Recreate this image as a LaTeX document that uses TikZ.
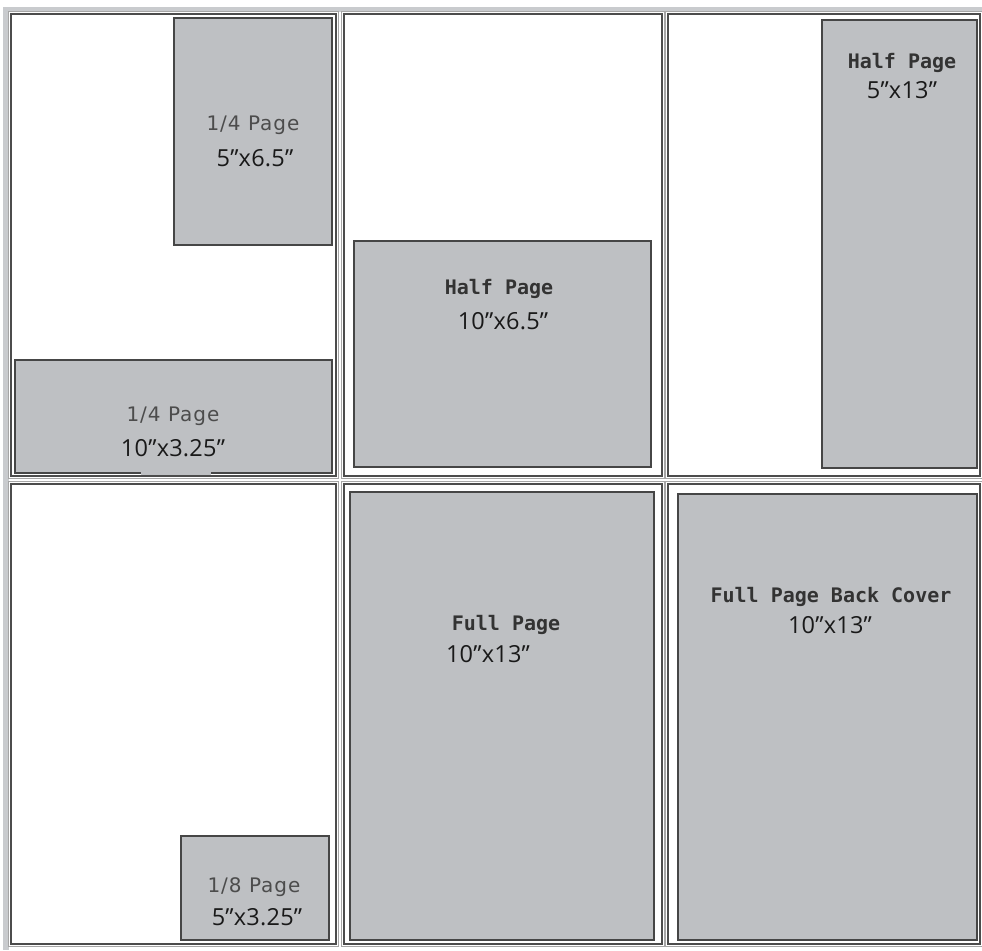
\documentclass[tikz,border=0pt]{standalone}
\usepackage{fontspec}
\newfontfamily\namefont[LetterSpace=5]{DejaVu Sans}
\newfontfamily\codefont{DejaVu Sans Mono}
\newfontfamily\dimfont[LetterSpace=1]{Open Sans}
\definecolor{adgray}{HTML}{BEC0C3}
\definecolor{edgegray}{HTML}{464646}
\definecolor{rimgray}{HTML}{C9CBCE}

\begin{document}
\begin{tikzpicture}[x=1pt,y=-1pt,
   cellframe/.style={draw=black!70,line width=1.2pt},
   cellrim/.style={draw=black!35,line width=0.8pt},
   adbox/.style={fill=adgray,draw=edgegray,line width=2.2pt},
   quarter/.style={font=\namefont\fontsize{20}{22}\selectfont,text=black!70,anchor=base,inner sep=0pt},
   mono/.style={font=\codefont\bfseries\fontsize{20}{22}\selectfont,text=black!80,anchor=base,inner sep=0pt},
   dims/.style={font=\dimfont\fontsize{23.5}{25}\selectfont,text=black!90,anchor=base,inner sep=0pt}]
  \useasboundingbox (0,0) rectangle (982,950);
  % light rim on top and left
  \fill[rimgray] (3,7) rectangle (982,12);
  \fill[rimgray] (3,7) rectangle (9,950);
  % page cells
  \foreach \xa/\ya/\xb/\yb in {10/13/337/477, 343/13/663/477, 667/13/981/477,
                               10/483/337/945, 343/483/663/945, 667/483/981/945} {
    \draw[cellrim] (\xa-1.5,\ya-1.5) rectangle (\xb+1.5,\yb+1.5);
    \draw[cellframe] (\xa+1,\ya+1) rectangle (\xb-1,\yb-1);
  }
  % ad boxes
  \draw[adbox] (174,18) rectangle (332,245);
  \draw[adbox] (15,360) rectangle (332,473);
  \fill[adgray] (141,471.5) rectangle (211,474.5);
  \draw[adbox] (354,241) rectangle (651,467);
  \draw[adbox] (822,20) rectangle (977,468);
  \draw[adbox] (181,836) rectangle (329,940);
  \draw[adbox] (350,492) rectangle (654,940);
  \draw[adbox] (678,494) rectangle (977,940);
  % labels
  \node[quarter] (q1) at (253,130) {1/4 Page};
  \node[dims] (q1d) at (255,166) {5”x6.5”};
  \node[quarter] (q2) at (173,421) {1/4 Page};
  \node[dims] (q2d) at (173,456) {10”x3.25”};
  \node[mono] (h1) at (499,294) {Half Page};
  \node[dims] (h1d) at (503,329) {10”x6.5”};
  \node[mono] (h2) at (902,69) {Half Page};
  \node[dims] (h2d) at (902,98) {5”x13”};
  \node[quarter] (e1) at (254,892) {1/8 Page};
  \node[dims] (e1d) at (257,925) {5”x3.25”};
  \node[mono] (f1) at (506,630) {Full Page};
  \node[dims] (f1d) at (488,662) {10”x13”};
  \node[mono] (f2) at (831,602) {Full Page Back Cover};
  \node[dims] (f2d) at (830,633) {10”x13”};
\end{tikzpicture}
\end{document}
